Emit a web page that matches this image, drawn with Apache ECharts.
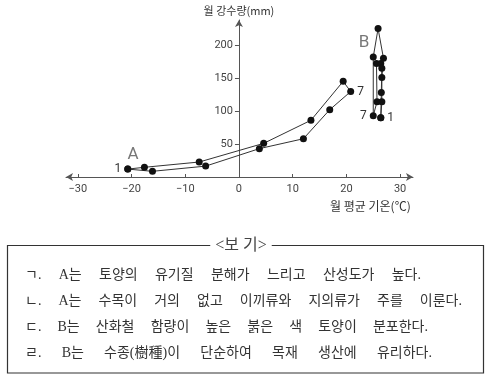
<!DOCTYPE html>
<html><head><meta charset="utf-8">
<script src="https://cdn.jsdelivr.net/npm/echarts@6/dist/echarts.min.js"></script>
<style>html,body{margin:0;padding:0;background:#fff}#c{width:487px;height:383px}</style>
</head><body><div id="c"></div>
<script>
// Climate A: [monthly mean temperature (°C), monthly precipitation (mm)], months 1..12
const monthsA = [1,2,3,4,5,6,7,8,9,10,11,12];
const tempA = [-20.7,-16.1,-6.2,3.8,12.0,16.9,20.8,19.4,13.4,4.6,-7.4,-17.6];
const precA = [12,8.6,16.5,43,58,102,129.5,145,86,51,22.7,14.7];
// Climate B
const tempB = [26.4,26.6,26.6,26.9,25.9,25.0,25.0,25.7,25.6,26.4,26.6,26.5];
const precB = [90,114,151,180,225,182,93,114,172,172,165,128];
const xTicks = [-30,-20,-10,0,10,20,30];
const yTicks = [50,100,150,200];
const regionNames = ['A','B'];
const regionNamePos = [[-19.7,33],[23.3,203]];
const yTitle = '월 강수량(mm)';
const xTitle = '월 평균 기온(℃)';
const boxTitle = '<보 기>';
const boxLines = [
  'ㄱ. A는 토양의 유기질 분해가 느리고 산성도가 높다.',
  'ㄴ. A는 수목이 거의 없고 이끼류와 지의류가 주를 이룬다.',
  'ㄷ. B는 산화철 함량이 높은 붉은 색 토양이 분포한다.',
  'ㄹ. B는 수종(樹種)이 단순하여 목재 생산에 유리하다.'
];

const X_MIN = -32.2, X_MAX = 32.4, Y_MAX = 238;
const GRID = {left:66, right:74, top:20, bottom:206};
const W = 487, H = 383;
const gridW = W - GRID.left - GRID.right;
const yAxisOffset = -((0 - X_MIN) / (X_MAX - X_MIN) * gridW);

function loop(ts, ps, labelLeftIdx, labelRightIdx, leftText, rightText){
  const d = ts.map((t,i)=>{
    const item = {value:[t, ps[i]]};
    if(i===labelLeftIdx) item.label = {show:true, position:'left', distance:3, formatter:leftText};
    if(i===labelRightIdx) item.label = {show:true, position:'right', distance:3, formatter:rightText};
    return item;
  });
  d.push({value:[ts[0], ps[0]]});
  return d;
}
const font = 'Roboto, "Noto Sans CJK KR", sans-serif';
const kfont = '"Noto Sans CJK KR", sans-serif';
const bfont = '"Liberation Serif", "Noto Sans CJK KR", serif';
const ptLabel = {color:'#333', fontSize:12, fontFamily:font};

// layout words of each statement line across the box (justified like the reference)
const lineStartX = 25, lineEnds = [421, 462, 428, 432], BOX_FS = 14;
const ctx = document.createElement('canvas').getContext('2d');
ctx.font = BOX_FS + 'px ' + bfont;
const lineGraphics = [];
boxLines.forEach((line, li)=>{
  const words = line.split(' ');
  const widths = words.map(w=>ctx.measureText(w).width);
  const total = widths.reduce((a,b)=>a+b,0);
  const gap = (lineEnds[li] - lineStartX - total) / (words.length - 1);
  let x = lineStartX;
  words.forEach((w,wi)=>{
    lineGraphics.push({type:'text', x:x, y:275 + li*26,
      style:{text:w, fill:'#333', fontSize:BOX_FS, fontFamily:bfont, verticalAlign:'middle'}});
    x += widths[wi] + gap;
  });
});

const chart = echarts.init(document.getElementById('c'), null, {renderer:'canvas'});
chart.setOption({
  animation:false,
  backgroundColor:'#fff',
  grid:{left:GRID.left, right:GRID.right, top:GRID.top, bottom:GRID.bottom, containLabel:false, outerBoundsMode:'none'},
  xAxis:{
    type:'value', min:X_MIN, max:X_MAX,
    axisLine:{onZero:true, lineStyle:{color:'#555', width:1}, symbol:['arrow','arrow'], symbolSize:[6,7]},
    axisTick:{show:true, inside:true, length:3, customValues:xTicks, lineStyle:{color:'#555'}},
    axisLabel:{customValues:xTicks, margin:7, color:'#444', fontSize:11, fontFamily:font,
      formatter:v=>String(v).replace('-','−')},
    splitLine:{show:false}
  },
  yAxis:{
    type:'value', min:0, max:Y_MAX, offset:yAxisOffset,
    name:yTitle, nameLocation:'end', nameGap:4,
    nameTextStyle:{color:'#333', fontSize:11, fontFamily:kfont, align:'center'},
    axisLine:{onZero:false, lineStyle:{color:'#555', width:1}, symbol:['none','arrow'], symbolSize:[6,7]},
    axisTick:{show:true, length:4, customValues:yTicks, lineStyle:{color:'#555'}},
    axisLabel:{customValues:yTicks, margin:6, color:'#444', fontSize:11, fontFamily:font},
    splitLine:{show:false}
  },
  series:[
    {type:'line', data:loop(tempA, precA, 0, 6, '1', '7'), symbol:'circle', symbolSize:7,
     itemStyle:{color:'#111'}, lineStyle:{color:'#333', width:1}, label:ptLabel, z:3},
    {type:'line', data:loop(tempB, precB, 6, 0, '7', '1'), symbol:'circle', symbolSize:7,
     itemStyle:{color:'#111'}, lineStyle:{color:'#333', width:1}, label:ptLabel, z:3},
    {type:'scatter', symbolSize:0, data:regionNames.map((n,i)=>({value:regionNamePos[i], name:n})),
     label:{show:true, position:'inside', formatter:p=>p.name, color:'#555', fontSize:17, fontFamily:font}}
  ],
  graphic:[
    {type:'text', left:330, top:200, style:{text:xTitle, fill:'#333', fontSize:12, fontFamily:kfont}},
    {type:'rect', shape:{x:7.5, y:245.5, width:476, height:127.5}, style:{fill:'none', stroke:'#333', lineWidth:1.2}},
    {type:'text', x:241, y:246, style:{text:boxTitle, fill:'#444', fontSize:16, fontFamily:bfont,
      align:'center', verticalAlign:'middle', backgroundColor:'#fff', padding:[0,5]}},
    ...lineGraphics
  ]
});
</script></body></html>
